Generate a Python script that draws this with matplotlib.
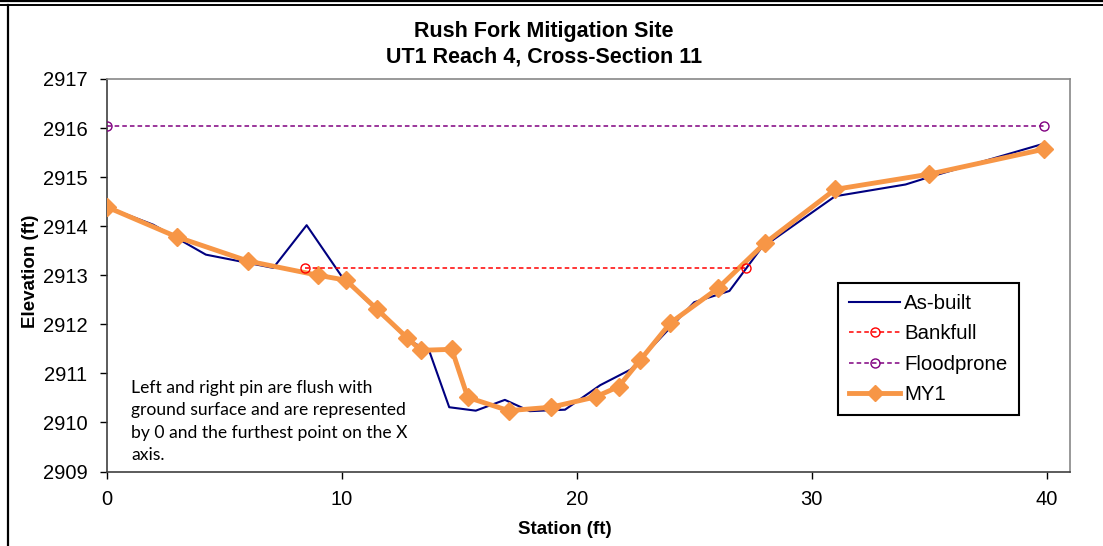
import matplotlib.pyplot as plt
from matplotlib.lines import Line2D

plt.rcParams['font.family'] = ['Liberation Sans', 'DejaVu Sans']

# As-built survey
asbuilt_x = [0, 1.97, 3.0, 4.21, 7.08, 8.5, 10.06, 11.5, 12.8, 13.74, 14.57, 15.7,
             16.94, 18.0, 19.5, 21.0, 22.3, 25.0, 26.5, 27.85, 31.0, 34.0, 35.0, 39.8]
asbuilt_y = [2914.39, 2914.03, 2913.75, 2913.42, 2913.15, 2914.02, 2912.93, 2912.28,
             2911.70, 2911.43, 2910.31, 2910.24, 2910.46, 2910.23, 2910.26, 2910.76,
             2911.08, 2912.45, 2912.68, 2913.55, 2914.61, 2914.85, 2915.0, 2915.67]

# MY1 survey
my1_x = [0, 2.98, 6.0, 8.98, 10.17, 11.49, 12.77, 13.36, 14.68, 15.36, 17.1, 18.9,
         20.8, 21.78, 22.7, 23.99, 26.0, 28.0, 31.0, 35.0, 39.9]
my1_y = [2914.39, 2913.78, 2913.29, 2913.0, 2912.9, 2912.31, 2911.73, 2911.47,
         2911.49, 2910.51, 2910.24, 2910.31, 2910.52, 2910.73, 2911.27, 2912.03,
         2912.73, 2913.65, 2914.75, 2915.06, 2915.57]

bankfull_x = [8.43, 27.2]
bankfull_y = [2913.14, 2913.14]

floodprone_x = [0, 39.9]
floodprone_y = [2916.04, 2916.04]

xticks = [0, 10, 20, 30, 40]
yticks = list(range(2909, 2918))

W, H = 1103, 546
fig = plt.figure(figsize=(W / 100, H / 100), dpi=100)
ax = fig.add_axes([107 / W, 1 - 471.5 / H, (1070 - 107) / W, (471.5 - 79) / H])

ax.plot(asbuilt_x, asbuilt_y, color='#000080', lw=1.5, zorder=3)
ax.plot(my1_x, my1_y, color='#F79646', lw=3.5, marker='D', ms=9,
        markeredgecolor='#F79646', zorder=4)
ax.plot(bankfull_x, bankfull_y, color='#FF0000', lw=1.1, ls=(0, (3, 2)),
        marker='o', ms=6.5, mfc='none', mew=1.0, zorder=5)
ax.plot(floodprone_x, floodprone_y, color='#800080', lw=1.1, ls=(0, (3, 2)),
        marker='o', ms=6.5, mfc='none', mew=1.0, zorder=5)

ax.set_xlim(0, 41)
ax.set_ylim(2909, 2917)
ax.set_xticks(xticks)
ax.set_yticks(yticks)
ax.tick_params(direction='out', length=5, width=1, labelsize=14.5, colors='black')
ax.tick_params(axis='x', pad=8)
ax.tick_params(axis='y', pad=9)

for side in ['top', 'right']:
    ax.spines[side].set_color('#888888')
    ax.spines[side].set_linewidth(1.2)
for side in ['left', 'bottom']:
    ax.spines[side].set_color('#404040')
    ax.spines[side].set_linewidth(1.2)

ax.set_xlabel('Station (ft)', fontsize=13.5, fontweight='bold')
ax.set_ylabel('Elevation (ft)', fontsize=13.5, fontweight='bold')
ax.xaxis.set_label_coords((565 - 107) / 963, -0.125)
ax.yaxis.set_label_coords(-0.071, 0.51)

fig.text(544 / W, 1 - 31 / H, 'Rush Fork Mitigation Site',
         ha='center', va='center', fontsize=15.5, fontweight='bold')
fig.text(544 / W, 1 - 57 / H, 'UT1 Reach 4, Cross-Section 11',
         ha='center', va='center', fontsize=15.5, fontweight='bold')

fig.text(131 / W, 1 - 380 / H,
         'Left and right pin are flush with\nground surface and are represented\n'
         'by 0 and the furthest point on the X\naxis.',
         ha='left', va='top', fontsize=12.6, family=['Lato', 'DejaVu Sans'],
         linespacing=1.5)

handles = [
    Line2D([], [], color='#000080', lw=1.5),
    Line2D([], [], color='#FF0000', lw=1.1, ls=(0, (3, 2)), marker='o', ms=6.5,
           mfc='none', mew=1.0),
    Line2D([], [], color='#800080', lw=1.1, ls=(0, (3, 2)), marker='o', ms=6.5,
           mfc='none', mew=1.0),
    Line2D([], [], color='#F79646', lw=3.5, marker='D', ms=8.5),
]
labels = ['As-built', 'Bankfull', 'Floodprone', 'MY1']
leg = ax.legend(handles, labels, loc='upper left',
                bbox_to_anchor=(838 / W, 1 - 283 / H), bbox_transform=fig.transFigure,
                borderaxespad=0, fancybox=False, framealpha=1, edgecolor='black',
                fontsize=14.7, handlelength=2.5, handletextpad=0.2, labelspacing=0.55,
                borderpad=0.55)
leg.get_frame().set_linewidth(1.5)

# outer border of the chart
fig.add_artist(Line2D([0, 1], [1 - 1 / H, 1 - 1 / H], color='black', lw=1.6,
                      transform=fig.transFigure))
fig.add_artist(Line2D([0, 1], [1 - 4.5 / H, 1 - 4.5 / H], color='black', lw=1.4,
                      transform=fig.transFigure))
fig.add_artist(Line2D([7.5 / W, 7.5 / W], [0, 1 - 4.5 / H], color='black', lw=1.6,
                      transform=fig.transFigure))

fig.savefig('out.png', dpi=100)
